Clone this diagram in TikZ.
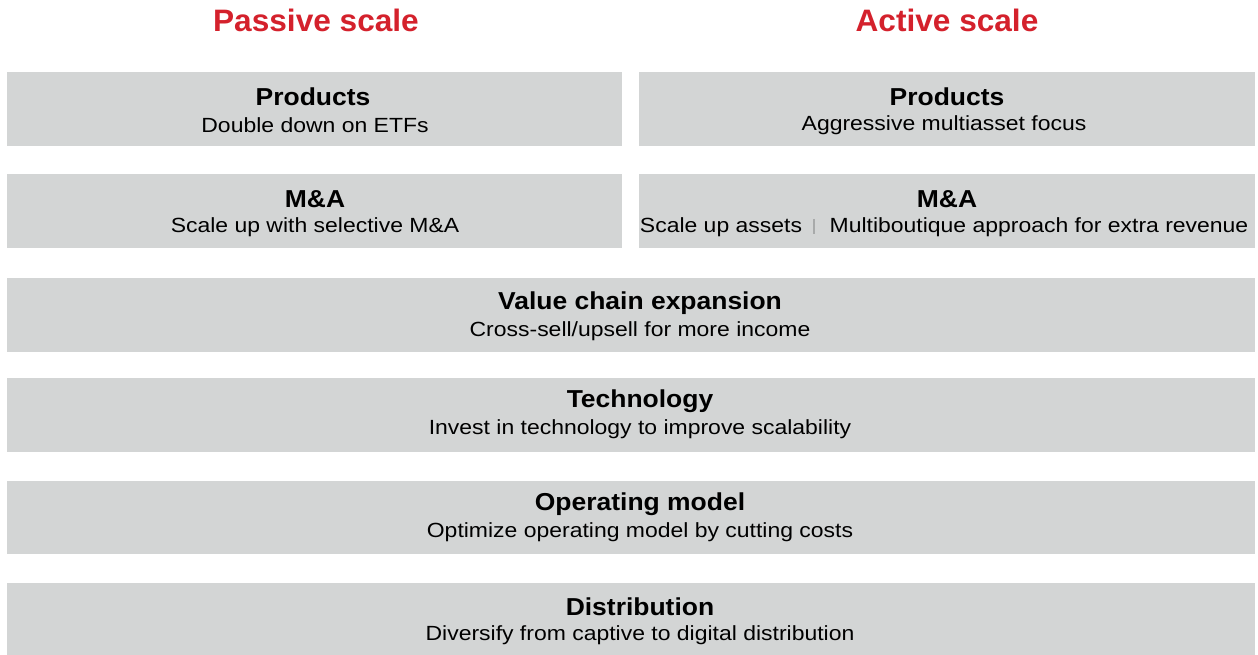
\documentclass[tikz,border=0pt]{standalone}
\usepackage{fontspec}
\setmainfont{Liberation Sans}
\newfontfamily\bodyfont{Liberation Sans}[FakeStretch=1.12]
\newfontfamily\headfont{Liberation Sans}[FakeStretch=1.08]
\newfontfamily\titlefont{Liberation Sans}[FakeStretch=1.02]
\definecolor{boxgray}{HTML}{D3D5D5}
\definecolor{titlered}{HTML}{D4212C}
\definecolor{sepgray}{HTML}{A8AAAA}
\tikzset{
  x=1pt, y=-1pt,
  panel/.style={fill=boxgray, draw=none},
  titletext/.style={font=\titlefont\fontsize{31}{34}\selectfont\bfseries, text=titlered, inner sep=0pt},
  headtext/.style={font=\headfont\fontsize{24.5}{28}\selectfont\bfseries, text=black, inner sep=0pt},
  bodytext/.style={font=\bodyfont\fontsize{20.5}{24}\selectfont, text=black, inner sep=0pt},
}
\begin{document}
\begin{tikzpicture}
\useasboundingbox (0,0) rectangle (1258,655);
% titles
\node[titletext] (tP) at (316,20) {Passive scale};
\node[titletext] (tA) at (947,20) {Active scale};
% boxes
\fill[panel] (7,72) rectangle (622,146);
\fill[panel] (639,72) rectangle (1255,146);
\fill[panel] (7,174) rectangle (622,248);
\fill[panel] (639,174) rectangle (1255,248);
\fill[panel] (7,278) rectangle (1255,352);
\fill[panel] (7,378) rectangle (1255,452);
\fill[panel] (7,481) rectangle (1255,554);
\fill[panel] (7,583) rectangle (1255,655);
% row 1
\node[headtext] (h1l) at (313,97) {Products};
\node[bodytext] (b1l) at (315,125) {Double down on ETFs};
\node[headtext] (h1r) at (947,97) {Products};
\node[bodytext] (b1r) at (944,125) {Aggressive multiasset focus};
% row 2
\node[headtext] (h2l) at (315,199) {M\&A};
\node[bodytext] (b2l) at (315,227) {Scale up with selective M\&A};
\node[headtext] (h2r) at (947,199) {M\&A};
\node[bodytext] (b2ra) at (721,227) {Scale up assets};
\node[bodytext] (b2rb) at (1039,227) {Multiboutique approach for extra revenue};
\draw[sepgray, line width=1.2pt] (814,219) -- (814,234);
% rows 3-6
\node[headtext] (h3) at (640,303) {Value chain expansion};
\node[bodytext] (b3) at (640,331) {Cross-sell/upsell for more income};
\node[headtext] (h4) at (640,401) {Technology};
\node[bodytext] (b4) at (640,429) {Invest in technology to improve scalability};
\node[headtext] (h5) at (640,504) {Operating model};
\node[bodytext] (b5) at (640,532) {Optimize operating model by cutting costs};
\node[headtext] (h6) at (640,607) {Distribution};
\node[bodytext] (b6) at (640,635) {Diversify from captive to digital distribution};
\end{tikzpicture}
\end{document}
